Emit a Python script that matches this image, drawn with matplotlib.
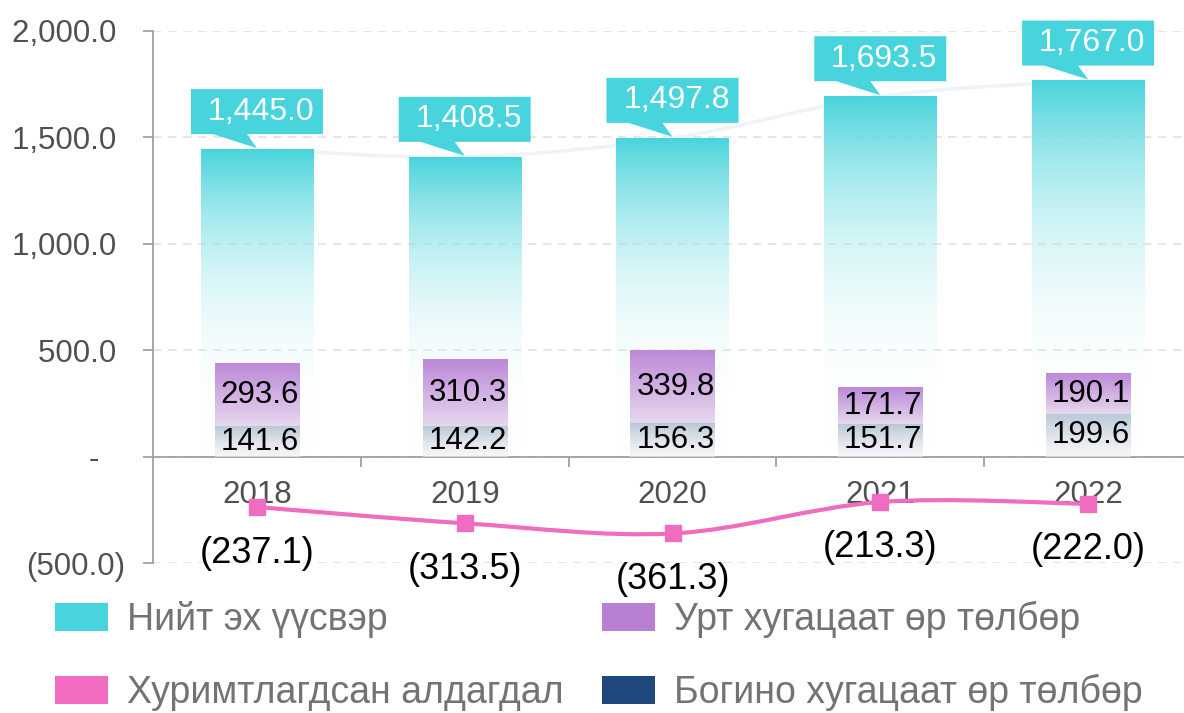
import numpy as np
import matplotlib
matplotlib.use('Agg')
import matplotlib.pyplot as plt
from matplotlib.patches import Polygon, PathPatch, Patch
from matplotlib.path import Path
import matplotlib.transforms as mtransforms

# ---------------- data ----------------
years = ['2018', '2019', '2020', '2021', '2022']
total_sources = [1445.0, 1408.5, 1497.8, 1693.5, 1767.0]   # Нийт эх үүсвэр
long_term = [293.6, 310.3, 339.8, 171.7, 190.1]            # Урт хугацаат өр төлбөр
short_term = [141.6, 142.2, 156.3, 151.7, 199.6]           # Богино хугацаат өр төлбөр
accum_loss = [-237.1, -313.5, -361.3, -213.3, -222.0]      # Хуримтлагдсан алдагдал
y_ticks = [-500, 0, 500, 1000, 1500, 2000]
y_tick_labels = ['(500.0)', '-   ', '500.0 ', '1,000.0 ', '1,500.0 ', '2,000.0 ']
legend_labels = ['Нийт эх үүсвэр', 'Хуримтлагдсан алдагдал',
                 'Урт хугацаат өр төлбөр', 'Богино хугацаат өр төлбөр']

# ---------------- style ----------------
CYAN = '#48d4dc'
PURPLE = '#b87fd3'
PINK = '#f06cc0'
NAVY = '#1f497d'
plt.rcParams['font.family'] = ['Liberation Sans', 'DejaVu Sans']

DPI = 100
fig = plt.figure(figsize=(11.84, 7.13), dpi=DPI)
ax = fig.add_axes([153 / 1184, 150 / 713, 1039 / 1184, 532 / 713])
ax.set_xlim(-0.5, 4.5)
ax.set_ylim(-500, 2000)

x = np.arange(len(years))


def hex2rgb(h):
    h = h.lstrip('#')
    return [int(h[i:i + 2], 16) / 255 for i in (0, 2, 4)]


def grad_bar(xc, w, y0, y1, top, bottom, top_a, bottom_a, power, z):
    n = 256
    t = np.linspace(0, 1, n) ** power
    tr, br = hex2rgb(top), hex2rgb(bottom)
    arr = np.zeros((n, 1, 4))
    for k in range(3):
        arr[:, 0, k] = br[k] + (tr[k] - br[k]) * t
    arr[:, 0, 3] = bottom_a + (top_a - bottom_a) * t
    ax.imshow(arr, extent=[xc - w / 2, xc + w / 2, y0, y1], origin='lower',
              aspect='auto', interpolation='bilinear', zorder=z)


def smooth_path(xs, ys):
    P = np.column_stack([xs, ys]).astype(float)
    n = len(P)
    verts = [P[0]]
    codes = [Path.MOVETO]
    for i in range(n - 1):
        p0 = P[max(i - 1, 0)]
        p1 = P[i]
        p2 = P[i + 1]
        p3 = P[min(i + 2, n - 1)]
        c1 = p1 + (p2 - p0) / 6
        c2 = p2 - (p3 - p1) / 6
        verts += [c1, c2, p2]
        codes += [Path.CURVE4] * 3
    return Path(verts, codes)


# faint smoothed line behind total bars
ax.add_patch(PathPatch(smooth_path(x, total_sources), fill=False,
                       edgecolor='#edf3f8', lw=2.5, zorder=1.6))

W_TOTAL = 0.54
W_STACK = 0.405
for i in range(len(years)):
    # total sources bar (cyan fading to white)
    grad_bar(x[i], W_TOTAL, 0, total_sources[i], CYAN, '#ffffff', 1.0, 0.0, 1.4, 2)
    # short-term liabilities (bottom)
    grad_bar(x[i], W_STACK, 0, short_term[i], '#b8c9d6', '#f6f0f6', 1.0, 0.6, 1.0, 3)
    # long-term liabilities (top)
    grad_bar(x[i], W_STACK, short_term[i], short_term[i] + long_term[i],
             '#bd88d8', '#e6d8ee', 1.0, 1.0, 1.0, 3)

# callouts for totals
BOX_W, BOX_H, GAP = 132, 45, 15
for i, v in enumerate(total_sources):
    trans = fig.dpi_scale_trans + mtransforms.ScaledTranslation(x[i], v, ax.transData)
    verts = np.array([(-44, GAP), (0, 1), (-10, GAP), (BOX_W / 2, GAP),
                      (BOX_W / 2, GAP + BOX_H), (-BOX_W / 2, GAP + BOX_H),
                      (-BOX_W / 2, GAP)]) / DPI
    ax.add_patch(Polygon(verts, closed=True, facecolor=CYAN, edgecolor='none',
                         transform=trans, zorder=7, clip_on=False))
    ax.annotate(f'{v:,.1f}', xy=(x[i], v),
                xytext=(4 * 0.72, (GAP + BOX_H / 2) * 0.72), textcoords='offset points',
                ha='center', va='center', color='white', fontsize=23, zorder=8)

# stacked labels
for i in range(len(years)):
    ax.annotate(f'{short_term[i]:,.1f}', xy=(x[i], short_term[i] / 2),
                xytext=(3 * 0.72, 0), textcoords='offset points',
                ha='center', va='center', color='black', fontsize=22.5, zorder=8)
    ax.annotate(f'{long_term[i]:,.1f}', xy=(x[i], short_term[i] + long_term[i] / 2),
                xytext=(3 * 0.72, 0), textcoords='offset points',
                ha='center', va='center', color='black', fontsize=22.5, zorder=8)

# accumulated loss smoothed line
ax.add_patch(PathPatch(smooth_path(x, accum_loss), fill=False, edgecolor=PINK,
                       lw=3, zorder=5, clip_on=False))
ax.plot(x, accum_loss, 's', color=PINK, ms=12, zorder=6, clip_on=False)
for i, v in enumerate(accum_loss):
    ax.annotate(f'({abs(v):,.1f})', xy=(x[i], v), xytext=(0, -46 * 0.72),
                textcoords='offset points', ha='center', va='center',
                color='black', fontsize=26, zorder=8)

# axes styling
for s in ['top', 'right']:
    ax.spines[s].set_visible(False)
ax.spines['bottom'].set_position(('data', 0))
ax.spines['bottom'].set_color('#a0a0a0')
ax.spines['left'].set_color('#a0a0a0')
ax.spines['bottom'].set_linewidth(1.3)
ax.spines['left'].set_linewidth(1.3)

ax.set_xticks([0.5, 1.5, 2.5, 3.5])
ax.set_xticklabels([])
ax.set_xticks(x, minor=True)
ax.set_xticklabels(years, minor=True)
ax.tick_params(axis='x', which='major', length=7.2, width=1.3, color='#a0a0a0', direction='out')
ax.tick_params(axis='x', which='minor', length=0, pad=17, labelsize=22.5, labelcolor='#505050')

ax.set_yticks(y_ticks)
ax.set_yticklabels(y_tick_labels)
ax.tick_params(axis='y', length=7.2, width=1.3, color='#a0a0a0', pad=13,
               labelsize=22.5, labelcolor='#505050')

ax.yaxis.grid(True, color='#e2e2e2', ls=(0, (5, 4)), lw=1.2)
ax.set_axisbelow(True)

# legend
h_left = [Patch(facecolor=CYAN), Patch(facecolor=PINK)]
h_right = [Patch(facecolor=PURPLE), Patch(facecolor=NAVY)]
leg_kw = dict(loc='center left', frameon=False, fontsize=27, handlelength=1.41,
              handleheight=0.77, handletextpad=0.5, labelspacing=0.98,
              borderpad=0, borderaxespad=0, labelcolor='#737373')
fig.legend(h_left, legend_labels[:2], bbox_to_anchor=(55 / 1184, 57 / 713), **leg_kw)
fig.legend(h_right, legend_labels[2:], bbox_to_anchor=(602 / 1184, 57 / 713), **leg_kw)

fig.savefig('out.png', dpi=DPI)
